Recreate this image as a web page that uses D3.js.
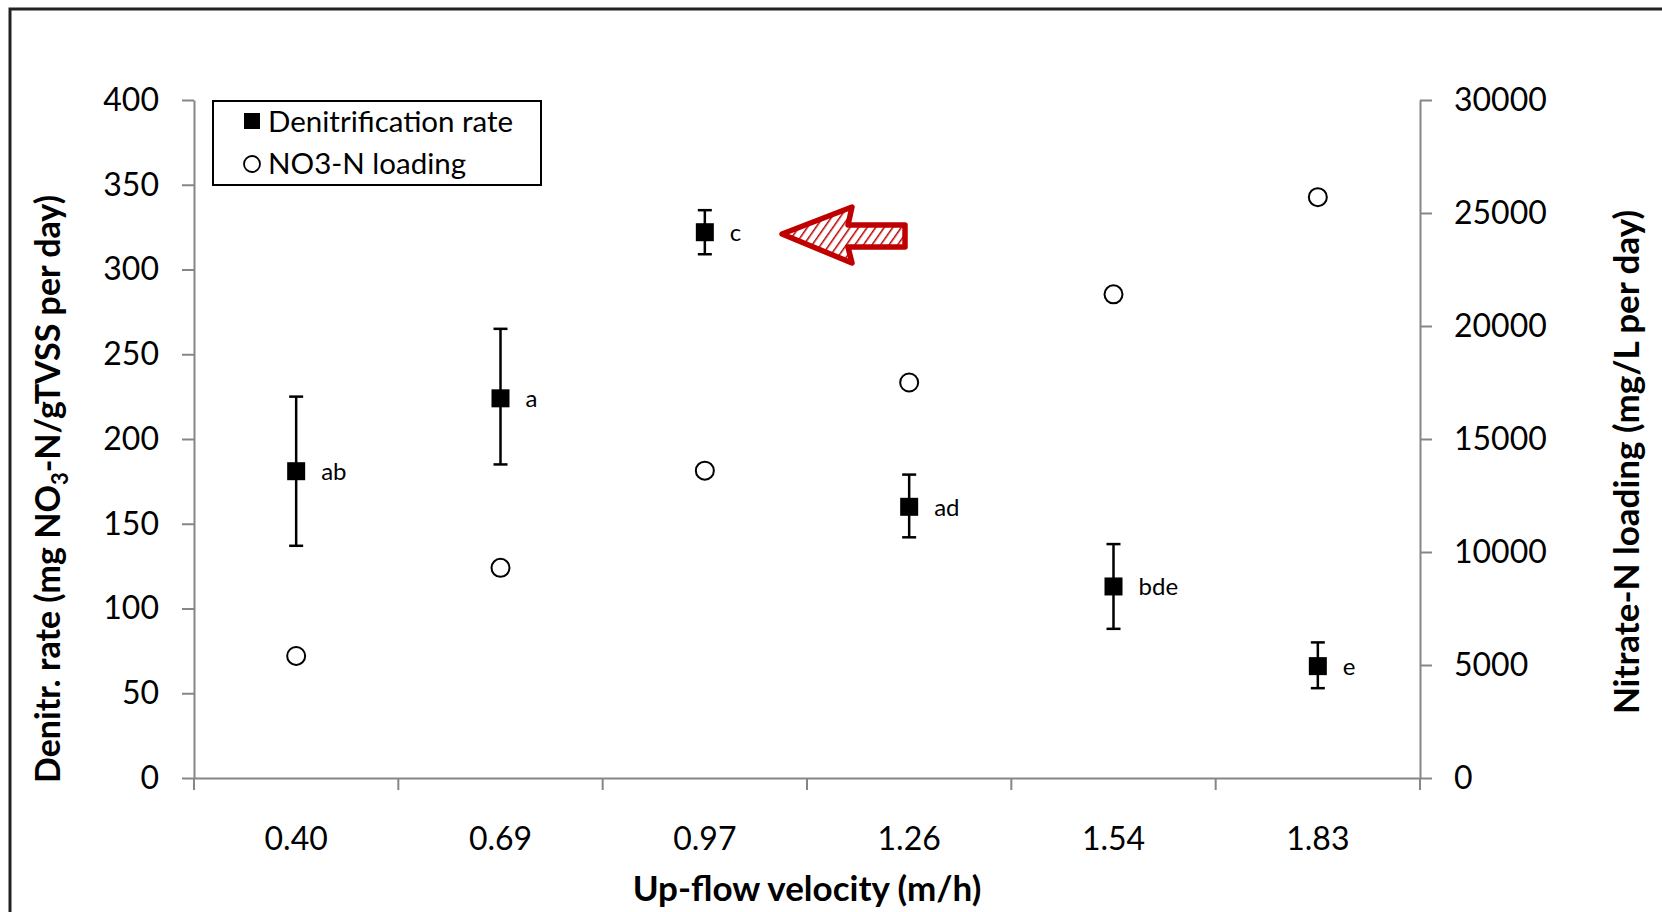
<!DOCTYPE html>
<html>
<head>
<meta charset="utf-8">
<script src="https://cdn.jsdelivr.net/npm/d3@7"></script>
<style>
  html, body { margin: 0; padding: 0; background: #fff; }
  svg { display: block; font-family: Lato, "Open Sans", sans-serif; }
</style>
</head>
<body>
<div id="chart"></div>
<script>
// data
const velocities = ["0.40", "0.69", "0.97", "1.26", "1.54", "1.83"];
const denitRate = [181, 224, 322, 160, 113, 66];
const denitUpper = [225, 265, 335, 179, 138, 80];
const denitLower = [137, 185, 309, 142, 88, 53];
const groupLetters = ["ab", "a", "c", "ad", "bde", "e"];
const no3Loading = [5400, 9300, 13600, 17500, 21400, 25700];
const leftTicks = [0, 50, 100, 150, 200, 250, 300, 350, 400];
const rightTicks = [0, 5000, 10000, 15000, 20000, 25000, 30000];

const W = 1662, H = 912;
const plot = {left: 194, right: 1420, top: 100, bottom: 778};
const axisGrey = "#868686";

const svg = d3.select("#chart").append("svg")
  .attr("width", W)
  .attr("height", H);

// outer frame (only top and left visible in the crop)
svg.append("path")
  .attr("d", `M10,${H} L10,9 L${W},9`)
  .attr("fill", "none")
  .attr("stroke", "#222")
  .attr("stroke-width", 3);

const x = d3.scaleBand()
  .domain(velocities)
  .range([plot.left, plot.right]);
const yL = d3.scaleLinear().domain([0, 400]).range([plot.bottom, plot.top]);
const yR = d3.scaleLinear().domain([0, 30000]).range([plot.bottom, plot.top]);
const cx = d => x(d) + x.bandwidth() / 2;

// left axis
const gL = svg.append("g")
  .attr("transform", `translate(${plot.left},0)`)
  .call(d3.axisLeft(yL).tickValues(leftTicks).tickSize(12).tickSizeOuter(0).tickPadding(23));
// right axis
const gR = svg.append("g")
  .attr("transform", `translate(${plot.right},0)`)
  .call(d3.axisRight(yR).tickValues(rightTicks).tickFormat(d3.format("d"))
    .tickSize(12).tickSizeOuter(0).tickPadding(22));
// bottom axis: labels at band centres, ticks at band edges
const gB = svg.append("g")
  .attr("transform", `translate(0,${plot.bottom})`)
  .call(d3.axisBottom(x).tickSize(0).tickSizeOuter(0).tickPadding(49));
const edges = velocities.map(v => x(v)).concat([plot.right]);
gB.selectAll("line.edge")
  .data(edges)
  .enter()
  .append("line")
  .attr("class", "edge")
  .attr("x1", d => d).attr("x2", d => d)
  .attr("y1", 0).attr("y2", 12);

[gL, gR, gB].forEach(g => {
  g.selectAll("path.domain").attr("stroke", axisGrey).attr("stroke-width", 2);
  g.selectAll("line").attr("stroke", axisGrey).attr("stroke-width", 2);
  g.selectAll("text")
    .attr("fill", "#000")
    .attr("font-size", 32)
    .attr("font-family", "Lato, sans-serif");
});

// axis titles
svg.append("text")
  .attr("x", (plot.left + plot.right) / 2)
  .attr("y", 901)
  .attr("text-anchor", "middle")
  .attr("font-size", 35)
  .attr("font-weight", "bold")
  .text("Up-flow velocity (m/h)");

const leftTitle = svg.append("text")
  .attr("transform", "translate(60,489) rotate(-90)")
  .attr("text-anchor", "middle")
  .attr("font-size", 34)
  .attr("font-weight", "bold");
leftTitle.append("tspan").text("Denitr. rate (mg NO");
leftTitle.append("tspan").attr("font-size", 22).attr("dy", 8).text("3");
leftTitle.append("tspan").attr("dy", -8).text("-N/gTVSS per day)");

svg.append("text")
  .attr("transform", "translate(1639,462) rotate(-90)")
  .attr("text-anchor", "middle")
  .attr("font-size", 35)
  .attr("font-weight", "bold")
  .text("Nitrate-N loading (mg/L per day)");

// NO3-N loading circles
svg.append("g").selectAll("circle")
  .data(velocities)
  .enter()
  .append("circle")
  .attr("cx", d => cx(d))
  .attr("cy", (d, i) => yR(no3Loading[i]))
  .attr("r", 9)
  .attr("fill", "#fff")
  .attr("stroke", "#000")
  .attr("stroke-width", 2);

// denitrification rate with error bars
const rate = svg.append("g").selectAll("g.rate")
  .data(velocities)
  .enter()
  .append("g")
  .attr("class", "rate");
rate.append("line")
  .attr("x1", d => cx(d)).attr("x2", d => cx(d))
  .attr("y1", (d, i) => yL(denitUpper[i]))
  .attr("y2", (d, i) => yL(denitLower[i]))
  .attr("stroke", "#000").attr("stroke-width", 2.5);
[denitUpper, denitLower].forEach(arr => {
  rate.append("line")
    .attr("x1", d => cx(d) - 7).attr("x2", d => cx(d) + 7)
    .attr("y1", (d, i) => yL(arr[i]))
    .attr("y2", (d, i) => yL(arr[i]))
    .attr("stroke", "#000").attr("stroke-width", 2.5);
});
rate.append("rect")
  .attr("x", d => cx(d) - 9)
  .attr("y", (d, i) => yL(denitRate[i]) - 9)
  .attr("width", 18).attr("height", 18)
  .attr("fill", "#000");
rate.append("text")
  .attr("x", d => cx(d) + 25)
  .attr("y", (d, i) => yL(denitRate[i]) + 9)
  .attr("font-size", 24)
  .text((d, i) => groupLetters[i]);

// legend
const legend = svg.append("g");
legend.append("rect")
  .attr("x", 213).attr("y", 101)
  .attr("width", 328).attr("height", 84)
  .attr("fill", "#fff")
  .attr("stroke", "#000")
  .attr("stroke-width", 2);
legend.append("rect")
  .attr("x", 244).attr("y", 113)
  .attr("width", 16).attr("height", 16)
  .attr("fill", "#000");
legend.append("circle")
  .attr("cx", 252).attr("cy", 164).attr("r", 8)
  .attr("fill", "#fff").attr("stroke", "#000").attr("stroke-width", 1.8);
legend.append("text")
  .attr("x", 268).attr("y", 132)
  .attr("font-size", 29.5)
  .text("Denitrification rate");
legend.append("text")
  .attr("x", 268).attr("y", 174)
  .attr("font-size", 29.5)
  .text("NO3-N loading");

// hand-drawn red arrow pointing at the 0.97 point
const defs = svg.append("defs");
const pat = defs.append("pattern")
  .attr("id", "hatch")
  .attr("patternUnits", "userSpaceOnUse")
  .attr("width", 7).attr("height", 7)
  .attr("patternTransform", "rotate(35)");
pat.append("rect").attr("width", 7).attr("height", 7).attr("fill", "#fff");
pat.append("line")
  .attr("x1", 0).attr("y1", 0).attr("x2", 0).attr("y2", 7)
  .attr("stroke", "#b80000").attr("stroke-width", 3);

svg.append("path")
  .attr("d", "M782,234 L852,207 L848,225 L905,225 L905,247 L848,247 L852,263 Z")
  .attr("fill", "url(#hatch)")
  .attr("stroke", "#c00000")
  .attr("stroke-width", 5.5)
  .attr("stroke-linejoin", "round");
</script>
</body>
</html>
